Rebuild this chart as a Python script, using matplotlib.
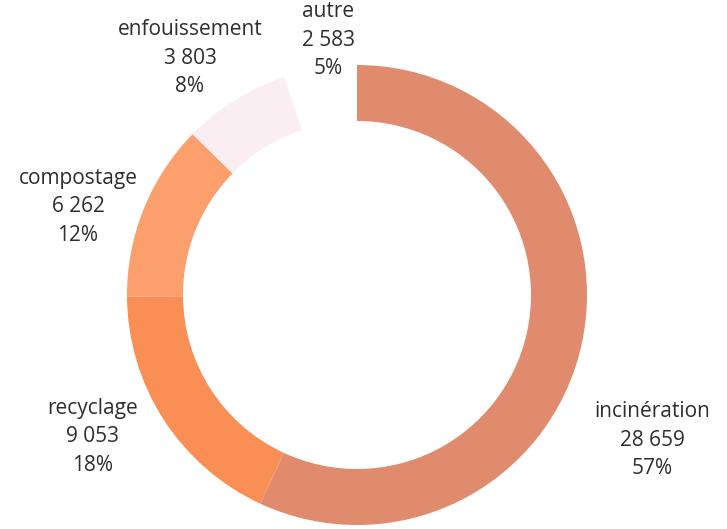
import numpy as np
import matplotlib.pyplot as plt

# waste treatment breakdown (tonnes)
categories = ['incinération', 'recyclage', 'compostage', 'enfouissement', 'autre']
values = [28659, 9053, 6262, 3803, 2583]
colors = ['#E08B6E', '#F98F55', '#FB9F6C', '#FBEEF2', '#FFFFFF']

# label anchors in pixels (x, y from top)
label_pos = [(652, 440), (93, 437), (78, 207), (190, 58), (328, 40)]

W, H = 727, 529
fig = plt.figure(figsize=(W / 100, H / 100), dpi=100)
ax = fig.add_axes([0, 0, 1, 1])

ax.pie(values, colors=colors, startangle=90, counterclock=False,
       center=(357, H - 295), radius=230,
       wedgeprops=dict(width=56, linewidth=0))

# pie() resets the limits, so set them afterwards
ax.set_xlim(0, W)
ax.set_ylim(0, H)
ax.set_aspect('equal')
ax.axis('off')

total = sum(values)
for name, v, (x, y) in zip(categories, values, label_pos):
    txt = f"{name}\n{v:,}".replace(',', ' ') + f"\n{round(100 * v / total)}%"
    ax.text(x, H - y, txt, ha='center', va='center', fontsize=15,
            family='Open Sans', color='#2e2e2e', linespacing=1.45)

fig.savefig('out.png', dpi=100)
